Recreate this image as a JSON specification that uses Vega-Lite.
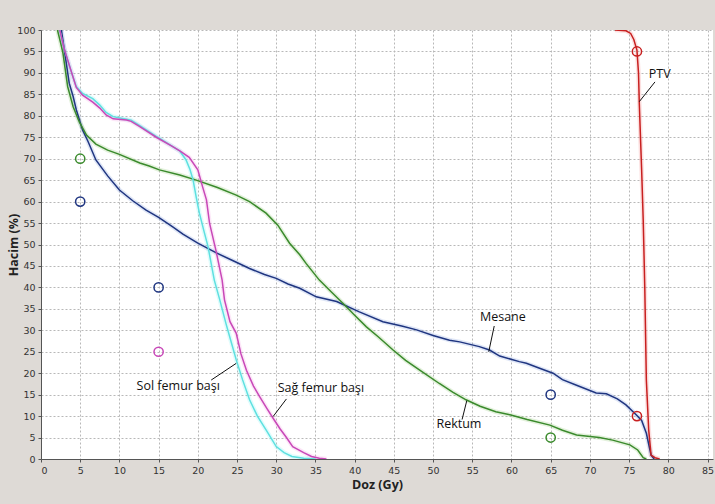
{
  "$schema": "https://vega.github.io/schema/vega-lite/v6.json",
  "autosize": {"type": "none"},
  "padding": {"left": 41, "top": 30, "right": 2, "bottom": 45},
  "width": 672,
  "height": 429,
  "background": "#dedad6",
  "view": {"fill": "white", "stroke": null},
  "config": {
    "axis": {
      "labelFont": "DejaVu Sans",
      "labelFontSize": 9.5,
      "labelColor": "#333333",
      "domainColor": "#555555",
      "tickColor": "#555555",
      "tickSize": 3,
      "labelPadding": 3,
      "labelOverlap": false,
      "gridColor": "#b8b8b8",
      "gridDash": [2, 2],
      "gridWidth": 1,
      "titleFont": "Open Sans",
      "titleFontSize": 12.5,
      "titleFontWeight": "bold",
      "titleColor": "#222222"
    }
  },
  "datasets": {
    "curves": [
      {"s": "Mesane", "x": 2.6, "y": 100}, {"s": "Mesane", "x": 3.0, "y": 95}, {"s": "Mesane", "x": 3.6, "y": 87.6}, {"s": "Mesane", "x": 4.1, "y": 84.5}, {"s": "Mesane", "x": 4.5, "y": 81.4}, {"s": "Mesane", "x": 5.3, "y": 76.7}, {"s": "Mesane", "x": 6.0, "y": 74}, {"s": "Mesane", "x": 7.0, "y": 69.7}, {"s": "Mesane", "x": 8.5, "y": 66}, {"s": "Mesane", "x": 10, "y": 62.7}, {"s": "Mesane", "x": 11.7, "y": 60.2}, {"s": "Mesane", "x": 13.4, "y": 58}, {"s": "Mesane", "x": 15, "y": 56.3}, {"s": "Mesane", "x": 16.8, "y": 54.1}, {"s": "Mesane", "x": 18.1, "y": 52.4}, {"s": "Mesane", "x": 20, "y": 50.3}, {"s": "Mesane", "x": 22.3, "y": 48.1}, {"s": "Mesane", "x": 24.5, "y": 46.2}, {"s": "Mesane", "x": 26.6, "y": 44.4}, {"s": "Mesane", "x": 28.5, "y": 43}, {"s": "Mesane", "x": 30, "y": 42.1}, {"s": "Mesane", "x": 31.5, "y": 40.8}, {"s": "Mesane", "x": 33, "y": 39.8}, {"s": "Mesane", "x": 35.1, "y": 37.8}, {"s": "Mesane", "x": 37.7, "y": 36.7}, {"s": "Mesane", "x": 40.6, "y": 34.3}, {"s": "Mesane", "x": 43.6, "y": 32}, {"s": "Mesane", "x": 46, "y": 31}, {"s": "Mesane", "x": 47.9, "y": 30.1}, {"s": "Mesane", "x": 50, "y": 28.8}, {"s": "Mesane", "x": 52.1, "y": 27.7}, {"s": "Mesane", "x": 53.4, "y": 27.3}, {"s": "Mesane", "x": 55.9, "y": 26.2}, {"s": "Mesane", "x": 57.2, "y": 25.4}, {"s": "Mesane", "x": 58.5, "y": 24}, {"s": "Mesane", "x": 61, "y": 22.7}, {"s": "Mesane", "x": 61.9, "y": 22.3}, {"s": "Mesane", "x": 63.5, "y": 21.2}, {"s": "Mesane", "x": 65.3, "y": 20}, {"s": "Mesane", "x": 66.5, "y": 18.5}, {"s": "Mesane", "x": 68.3, "y": 17.2}, {"s": "Mesane", "x": 70.8, "y": 15.4}, {"s": "Mesane", "x": 72.1, "y": 15.2}, {"s": "Mesane", "x": 73.5, "y": 14}, {"s": "Mesane", "x": 74.6, "y": 12.6}, {"s": "Mesane", "x": 75.9, "y": 10.3}, {"s": "Mesane", "x": 76.6, "y": 9.0}, {"s": "Mesane", "x": 77.2, "y": 6}, {"s": "Mesane", "x": 77.8, "y": 0.9}, {"s": "Mesane", "x": 78.2, "y": 0},
      {"s": "Rektum", "x": 2.1, "y": 100}, {"s": "Rektum", "x": 2.5, "y": 97}, {"s": "Rektum", "x": 2.8, "y": 94.6}, {"s": "Rektum", "x": 3.4, "y": 86.8}, {"s": "Rektum", "x": 4.1, "y": 82.1}, {"s": "Rektum", "x": 4.9, "y": 78.5}, {"s": "Rektum", "x": 5.8, "y": 75.5}, {"s": "Rektum", "x": 7, "y": 73.4}, {"s": "Rektum", "x": 8.5, "y": 72}, {"s": "Rektum", "x": 10, "y": 71}, {"s": "Rektum", "x": 12.6, "y": 69}, {"s": "Rektum", "x": 13.8, "y": 68.3}, {"s": "Rektum", "x": 15.1, "y": 67.4}, {"s": "Rektum", "x": 17.7, "y": 66.2}, {"s": "Rektum", "x": 19.8, "y": 65}, {"s": "Rektum", "x": 22.5, "y": 63.3}, {"s": "Rektum", "x": 24.9, "y": 61.5}, {"s": "Rektum", "x": 26.6, "y": 60}, {"s": "Rektum", "x": 28.7, "y": 57.3}, {"s": "Rektum", "x": 30.2, "y": 54.5}, {"s": "Rektum", "x": 31.7, "y": 50.3}, {"s": "Rektum", "x": 33, "y": 47.6}, {"s": "Rektum", "x": 33.8, "y": 45.6}, {"s": "Rektum", "x": 35.5, "y": 41.7}, {"s": "Rektum", "x": 37, "y": 39}, {"s": "Rektum", "x": 38.5, "y": 36.3}, {"s": "Rektum", "x": 40, "y": 33.5}, {"s": "Rektum", "x": 41.5, "y": 30.8}, {"s": "Rektum", "x": 43, "y": 28.5}, {"s": "Rektum", "x": 44.9, "y": 25.4}, {"s": "Rektum", "x": 46.5, "y": 23}, {"s": "Rektum", "x": 48.3, "y": 20.7}, {"s": "Rektum", "x": 50.8, "y": 17.6}, {"s": "Rektum", "x": 52.5, "y": 15.6}, {"s": "Rektum", "x": 54.2, "y": 13.8}, {"s": "Rektum", "x": 56, "y": 12.3}, {"s": "Rektum", "x": 58, "y": 11}, {"s": "Rektum", "x": 59.8, "y": 10.3}, {"s": "Rektum", "x": 62, "y": 9.2}, {"s": "Rektum", "x": 64.9, "y": 7.9}, {"s": "Rektum", "x": 66.5, "y": 6.7}, {"s": "Rektum", "x": 68.3, "y": 5.6}, {"s": "Rektum", "x": 71.2, "y": 5}, {"s": "Rektum", "x": 72.9, "y": 4.4}, {"s": "Rektum", "x": 75.1, "y": 3.3}, {"s": "Rektum", "x": 76.1, "y": 2.1}, {"s": "Rektum", "x": 76.8, "y": 0.3}, {"s": "Rektum", "x": 77.2, "y": 0},
      {"s": "Sol femur başı", "x": 2.4, "y": 100}, {"s": "Sol femur başı", "x": 2.9, "y": 96}, {"s": "Sol femur başı", "x": 3.4, "y": 93}, {"s": "Sol femur başı", "x": 4.0, "y": 89.5}, {"s": "Sol femur başı", "x": 4.5, "y": 86.8}, {"s": "Sol femur başı", "x": 5.3, "y": 85.2}, {"s": "Sol femur başı", "x": 6.6, "y": 84}, {"s": "Sol femur başı", "x": 7.5, "y": 82.5}, {"s": "Sol femur başı", "x": 8.3, "y": 80.8}, {"s": "Sol femur başı", "x": 9.2, "y": 79.8}, {"s": "Sol femur başı", "x": 10.9, "y": 79.2}, {"s": "Sol femur başı", "x": 11.5, "y": 79}, {"s": "Sol femur başı", "x": 12.6, "y": 77.7}, {"s": "Sol femur başı", "x": 14.7, "y": 75.2}, {"s": "Sol femur başı", "x": 15.1, "y": 74.8}, {"s": "Sol femur başı", "x": 16.8, "y": 72.8}, {"s": "Sol femur başı", "x": 17.7, "y": 71.8}, {"s": "Sol femur başı", "x": 18.5, "y": 69.7}, {"s": "Sol femur başı", "x": 19.0, "y": 67.5}, {"s": "Sol femur başı", "x": 19.4, "y": 65}, {"s": "Sol femur başı", "x": 19.8, "y": 61}, {"s": "Sol femur başı", "x": 20.2, "y": 57.3}, {"s": "Sol femur başı", "x": 20.8, "y": 53}, {"s": "Sol femur başı", "x": 21.3, "y": 49.5}, {"s": "Sol femur başı", "x": 22.1, "y": 41.7}, {"s": "Sol femur başı", "x": 22.8, "y": 37.1}, {"s": "Sol femur başı", "x": 23.6, "y": 31.5}, {"s": "Sol femur başı", "x": 24.3, "y": 27}, {"s": "Sol femur başı", "x": 24.9, "y": 23.1}, {"s": "Sol femur başı", "x": 25.7, "y": 18.5}, {"s": "Sol femur başı", "x": 26.6, "y": 13.8}, {"s": "Sol femur başı", "x": 27.6, "y": 10}, {"s": "Sol femur başı", "x": 28.7, "y": 6.8}, {"s": "Sol femur başı", "x": 30, "y": 2.9}, {"s": "Sol femur başı", "x": 31, "y": 1.5}, {"s": "Sol femur başı", "x": 32, "y": 0.6}, {"s": "Sol femur başı", "x": 33.5, "y": 0.2}, {"s": "Sol femur başı", "x": 35, "y": 0},
      {"s": "Sağ femur başı", "x": 2.4, "y": 100}, {"s": "Sağ femur başı", "x": 2.9, "y": 96}, {"s": "Sağ femur başı", "x": 3.4, "y": 93}, {"s": "Sağ femur başı", "x": 4.0, "y": 89.5}, {"s": "Sağ femur başı", "x": 4.5, "y": 86.6}, {"s": "Sağ femur başı", "x": 5.3, "y": 84.8}, {"s": "Sağ femur başı", "x": 6.6, "y": 83.2}, {"s": "Sağ femur başı", "x": 7.5, "y": 81.8}, {"s": "Sağ femur başı", "x": 8.3, "y": 80.2}, {"s": "Sağ femur başı", "x": 9.2, "y": 79.3}, {"s": "Sağ femur başı", "x": 10.9, "y": 79}, {"s": "Sağ femur başı", "x": 11.5, "y": 78.7}, {"s": "Sağ femur başı", "x": 12.6, "y": 77.5}, {"s": "Sağ femur başı", "x": 14.7, "y": 75}, {"s": "Sağ femur başı", "x": 16.8, "y": 72.8}, {"s": "Sağ femur başı", "x": 17.7, "y": 71.8}, {"s": "Sağ femur başı", "x": 18.9, "y": 70.3}, {"s": "Sağ femur başı", "x": 20, "y": 67.4}, {"s": "Sağ femur başı", "x": 20.6, "y": 63.5}, {"s": "Sağ femur başı", "x": 21.1, "y": 60.4}, {"s": "Sağ femur başı", "x": 21.5, "y": 54.9}, {"s": "Sağ femur başı", "x": 22.3, "y": 48.7}, {"s": "Sağ femur başı", "x": 23.1, "y": 41.7}, {"s": "Sağ femur başı", "x": 23.4, "y": 37.1}, {"s": "Sağ femur başı", "x": 24.1, "y": 32}, {"s": "Sağ femur başı", "x": 24.9, "y": 29.3}, {"s": "Sağ femur başı", "x": 25.5, "y": 24.5}, {"s": "Sağ femur başı", "x": 26.2, "y": 20.7}, {"s": "Sağ femur başı", "x": 27.1, "y": 17}, {"s": "Sağ femur başı", "x": 27.9, "y": 14.5}, {"s": "Sağ femur başı", "x": 28.8, "y": 11.8}, {"s": "Sağ femur başı", "x": 29.6, "y": 9.5}, {"s": "Sağ femur başı", "x": 30.5, "y": 7}, {"s": "Sağ femur başı", "x": 31.3, "y": 5}, {"s": "Sağ femur başı", "x": 32.1, "y": 2.9}, {"s": "Sağ femur başı", "x": 33.5, "y": 1.5}, {"s": "Sağ femur başı", "x": 34.5, "y": 0.6}, {"s": "Sağ femur başı", "x": 35.5, "y": 0.2}, {"s": "Sağ femur başı", "x": 36.4, "y": 0},
      {"s": "PTV", "x": 73.2, "y": 100}, {"s": "PTV", "x": 74.6, "y": 99.8}, {"s": "PTV", "x": 75.2, "y": 99.2}, {"s": "PTV", "x": 75.6, "y": 97.8}, {"s": "PTV", "x": 76, "y": 95.3}, {"s": "PTV", "x": 76.2, "y": 90}, {"s": "PTV", "x": 76.3, "y": 82.9}, {"s": "PTV", "x": 76.6, "y": 67.4}, {"s": "PTV", "x": 76.8, "y": 55.7}, {"s": "PTV", "x": 77.0, "y": 40}, {"s": "PTV", "x": 77.2, "y": 18.4}, {"s": "PTV", "x": 77.5, "y": 6.8}, {"s": "PTV", "x": 77.8, "y": 0.9}, {"s": "PTV", "x": 78.3, "y": 0.3}, {"s": "PTV", "x": 78.9, "y": 0}
    ],
    "rings": [
      {"s": "Rektum", "x": 5, "y": 70}, {"s": "Mesane", "x": 5, "y": 60}, {"s": "Mesane", "x": 15, "y": 40}, {"s": "Sağ femur başı", "x": 15, "y": 25},
      {"s": "PTV", "x": 76, "y": 95}, {"s": "Mesane", "x": 65, "y": 15}, {"s": "Rektum", "x": 65, "y": 5}, {"s": "PTV", "x": 76, "y": 10}
    ],
    "labels": [
      {"t": "PTV", "x": 78.9, "y": 89.7, "x1": 78.3, "y1": 87.9, "x2": 76.3, "y2": 83.3},
      {"t": "Mesane", "x": 58.9, "y": 33.1, "x1": 57.8, "y1": 31, "x2": 57.1, "y2": 25},
      {"t": "Rektum", "x": 53.3, "y": 8.1, "x1": 54.3, "y1": 13.6, "x2": 53.7, "y2": 9.2},
      {"t": "Sol femur başı", "x": 17.5, "y": 16.9, "x1": 24.9, "y1": 22.3, "x2": 21.7, "y2": 18.4},
      {"t": "Sağ femur başı", "x": 35.7, "y": 16.5, "x1": 31.3, "y1": 14.0, "x2": 29.6, "y2": 9.9}
    ]
  },
  "encoding": {
    "x": {"field": "x", "type": "quantitative", "scale": {"domain": [0, 85.7], "nice": false, "zero": false},
      "axis": {"values": [0,5,10,15,20,25,30,35,40,45,50,55,60,65,70,75,80,85], "grid": true, "title": "Doz (Gy)", "titlePadding": 4}},
    "y": {"field": "y", "type": "quantitative", "scale": {"domain": [0, 100], "nice": false},
      "axis": {"values": [0,5,10,15,20,25,30,35,40,45,50,55,60,65,70,75,80,85,90,95,100], "grid": true, "title": "Hacim (%)", "titleX": -28, "titleY": 214.5, "titleAngle": -90, "titleBaseline": "middle", "titleAlign": "center"}}
  },
  "layer": [
    {
      "data": {"name": "curves"},
      "mark": {"type": "line", "strokeWidth": 4.5, "opacity": 0.22, "clip": true},
      "encoding": {
        "color": {"field": "s", "type": "nominal", "legend": null,
          "scale": {"domain": ["Mesane", "Rektum", "Sol femur başı", "Sağ femur başı", "PTV"], "range": ["#6f8fd8", "#7fc060", "#70f0f0", "#f090e0", "#f07070"]}}
      }
    },
    {
      "data": {"name": "curves"},
      "mark": {"type": "line", "strokeWidth": 1.5, "clip": true},
      "encoding": {
        "stroke": {"field": "s", "type": "nominal", "legend": null,
          "scale": {"domain": ["Mesane", "Rektum", "Sol femur başı", "Sağ femur başı", "PTV"], "range": ["#1f3580", "#3a8a2c", "#5ee0e0", "#c848b8", "#c82020"]}}
      }
    },
    {
      "data": {"name": "rings"},
      "mark": {"type": "point", "filled": false, "size": 85, "strokeWidth": 1.5, "opacity": 1},
      "encoding": {
        "stroke": {"field": "s", "type": "nominal", "legend": null,
          "scale": {"domain": ["Mesane", "Rektum", "Sol femur başı", "Sağ femur başı", "PTV"], "range": ["#1f3580", "#5a9a3a", "#5ee0e0", "#d070c8", "#c03040"]}}
      }
    },
    {
      "data": {"name": "labels"},
      "mark": {"type": "rule", "color": "#111111", "strokeWidth": 1},
      "encoding": {
        "x": {"field": "x1", "type": "quantitative"},
        "y": {"field": "y1", "type": "quantitative"},
        "x2": {"field": "x2"},
        "y2": {"field": "y2"}
      }
    },
    {
      "data": {"name": "labels"},
      "mark": {"type": "text", "font": "Open Sans", "fontSize": 12.5, "color": "#111111", "align": "center", "baseline": "middle"},
      "encoding": {
        "text": {"field": "t"}
      }
    }
  ]
}
